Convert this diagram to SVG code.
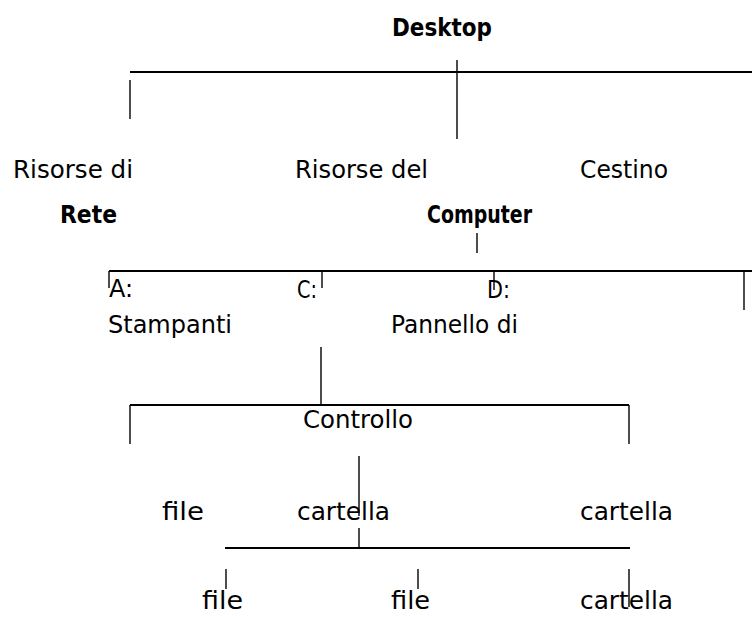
<svg xmlns="http://www.w3.org/2000/svg" width="752" height="617" viewBox="0 0 752 617">
<style>
text{font-family:"DejaVu Sans Condensed","DejaVu Sans","Liberation Sans",sans-serif;font-size:25px;fill:#000}
.b{font-weight:bold}
.s{font-size:24px}
.h{stroke:#000;stroke-width:2;fill:none}
.v{stroke:#000;stroke-width:1.4;fill:none}
</style>
<rect width="752" height="617" fill="#fff"/>
<g id="connectors">
<line class="h" x1="130" y1="72" x2="752" y2="72"/>
<line class="v" x1="457" y1="60" x2="457" y2="139"/>
<line class="v" x1="130" y1="80" x2="130" y2="119"/>
<line class="v" x1="477" y1="233" x2="477" y2="253"/>
<line class="h" x1="109" y1="271" x2="752" y2="271"/>
<line class="v" x1="109" y1="271" x2="109" y2="288"/>
<line class="v" x1="322" y1="271" x2="322" y2="288"/>
<line class="v" x1="494" y1="271" x2="494" y2="290"/>
<line class="v" x1="744" y1="271" x2="744" y2="310"/>
<line class="v" x1="321" y1="347" x2="321" y2="405"/>
<line class="h" x1="130" y1="405" x2="629" y2="405"/>
<line class="v" x1="130" y1="405" x2="130" y2="444"/>
<line class="v" x1="629" y1="405" x2="629" y2="444"/>
<line class="v" x1="359" y1="456" x2="359" y2="516"/>
<line class="v" x1="359" y1="528" x2="359" y2="548"/>
<line class="h" x1="225" y1="548" x2="630" y2="548"/>
<line class="v" x1="226" y1="569" x2="226" y2="589"/>
<line class="v" x1="418" y1="569" x2="418" y2="589"/>
<line class="v" x1="629" y1="569" x2="629" y2="607"/>
</g>
<g id="desktop"><text class="b" x="392" y="36" font-size="27" textLength="100" lengthAdjust="spacingAndGlyphs">Desktop</text></g>
<g id="risorse-rete">
<text x="13" y="178" textLength="120" lengthAdjust="spacingAndGlyphs">Risorse di</text>
<text class="b" x="60" y="223" textLength="57" lengthAdjust="spacingAndGlyphs">Rete</text>
</g>
<g id="risorse-computer">
<text x="295" y="178" textLength="133" lengthAdjust="spacingAndGlyphs">Risorse del</text>
<text class="b" x="427" y="223" textLength="105" lengthAdjust="spacingAndGlyphs">Computer</text>
</g>
<g id="cestino"><text x="580" y="178" textLength="88" lengthAdjust="spacingAndGlyphs">Cestino</text></g>
<g id="drive-a"><text x="109" y="297" textLength="24" lengthAdjust="spacingAndGlyphs">A:</text></g>
<g id="drive-c"><text x="297" y="298" textLength="20" lengthAdjust="spacingAndGlyphs">C:</text></g>
<g id="drive-d"><text x="487" y="298" textLength="23" lengthAdjust="spacingAndGlyphs">D:</text></g>
<g id="stampanti"><text x="108" y="333" textLength="124" lengthAdjust="spacingAndGlyphs">Stampanti</text></g>
<g id="pannello">
<text x="391" y="333" textLength="127" lengthAdjust="spacingAndGlyphs">Pannello di</text>
<text x="303" y="428" textLength="110" lengthAdjust="spacingAndGlyphs">Controllo</text>
</g>
<g id="file-1"><text x="162" y="520" textLength="42" lengthAdjust="spacingAndGlyphs">file</text></g>
<g id="cartella-1"><text x="297" y="520" textLength="93" lengthAdjust="spacingAndGlyphs">cartella</text></g>
<g id="cartella-2"><text x="580" y="520" textLength="93" lengthAdjust="spacingAndGlyphs">cartella</text></g>
<g id="file-2"><text class="s" x="202" y="609" textLength="41" lengthAdjust="spacingAndGlyphs">file</text></g>
<g id="file-3"><text class="s" x="391" y="609" textLength="39" lengthAdjust="spacingAndGlyphs">file</text></g>
<g id="cartella-3"><text class="s" x="580" y="609" textLength="93" lengthAdjust="spacingAndGlyphs">cartella</text></g>
</svg>
